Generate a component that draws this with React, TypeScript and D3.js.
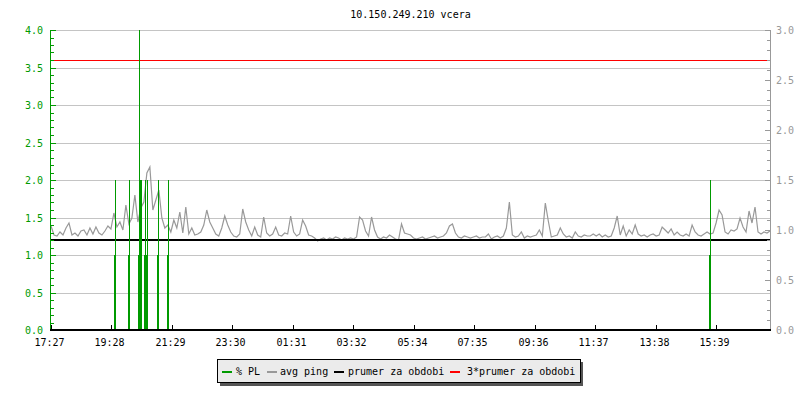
import React from "react";
import * as d3 from "d3";

// ---- data ----
const title = "10.150.249.210 vcera";
const timeLabels = ["17:27", "19:28", "21:29", "23:30", "01:31", "03:32", "05:34", "07:35", "09:36", "11:37", "13:38", "15:39"];
const startLabel = "17:27";
const periodMinutes = 1440;
const sampleStep = 6; // minutes between avg ping samples

// avg ping (right axis), one value every 6 minutes from 17:27
const avgPing = [
  1.04, 0.95, 0.94, 0.98, 0.95, 1.02, 1.07, 0.95, 0.97, 0.94,
  0.99, 1.00, 0.95, 1.02, 0.96, 1.03, 0.97, 0.95, 0.99, 1.04,
  1.01, 1.17, 1.03, 1.08, 1.00, 1.25, 1.06, 1.12, 1.35, 1.08,
  1.22, 1.28, 1.57, 1.63, 1.20, 1.30, 1.40, 1.12, 1.02, 1.05,
  0.98, 1.10, 1.02, 1.18, 0.97, 1.23, 0.96, 1.02, 0.95, 0.96,
  0.98, 1.05, 1.20, 1.08, 1.02, 0.96, 0.94, 1.02, 1.14, 1.05,
  0.98, 0.94, 0.93, 0.96, 1.21, 1.08, 1.00, 0.94, 1.03, 0.95,
  0.93, 1.13, 0.97, 0.94, 0.96, 1.03, 0.95, 0.94, 0.97, 0.96,
  1.14, 0.98, 0.94, 0.96, 1.10, 1.04, 0.95, 0.94, 0.92, 0.89,
  0.91, 0.92, 0.90, 0.92, 0.91, 0.93, 0.92, 0.90, 0.92, 0.91,
  0.92, 0.91, 0.93, 1.13, 1.10, 0.99, 0.94, 1.13, 1.00, 0.93,
  0.91, 0.93, 0.92, 0.95, 0.93, 0.91, 0.90, 1.06, 0.97, 0.96,
  0.95, 0.92, 0.91, 0.92, 0.93, 0.91, 0.92, 0.93, 0.94, 0.92,
  0.93, 0.94, 0.97, 1.04, 1.06, 0.97, 0.93, 0.92, 0.94, 0.93,
  0.92, 0.93, 0.94, 0.92, 0.93, 0.93, 0.96, 0.91, 0.93, 0.94,
  0.92, 0.94, 1.02, 1.28, 0.95, 0.93, 0.94, 0.98, 0.92, 0.94,
  0.93, 0.94, 0.95, 1.00, 0.94, 1.27, 1.09, 0.93, 0.94, 0.95,
  1.02, 0.96, 0.93, 0.94, 0.92, 0.98, 0.94, 0.93, 0.95, 0.94,
  0.94, 0.96, 0.94, 0.96, 0.93, 0.95, 0.93, 0.94, 1.02, 1.14,
  0.95, 1.04, 0.94, 1.00, 0.96, 1.05, 0.96, 0.94, 0.95, 0.93,
  0.95, 0.96, 0.94, 0.95, 1.03, 1.00, 0.97, 1.01, 0.95, 0.98,
  0.95, 0.94, 0.96, 0.94, 1.05, 0.98, 0.95, 0.94, 0.96, 0.98,
  0.96, 0.97, 1.07, 1.20, 1.15, 0.98, 0.96, 1.00, 0.99, 1.01,
  1.12, 1.03, 0.98, 1.19, 1.07, 1.23, 0.98, 0.96, 0.98, 0.97,
  0.99,
];

// % packet loss events (left axis): minutes after start, value
const plMinutes = [128, 157, 177, 179, 181, 189, 193, 215, 235, 1319];
const plValues = [2, 2, 4, 2, 2, 2, 2, 2, 2, 2];

const periodAverage = 0.9; // prumer za obdobi (right axis)
const averageMultiplier = 3;

const legendLabels = ["% PL", "avg ping", "prumer za obdobi", "3*prumer za obdobi"];

// ---- styles ----
const GREEN = "#009a00";
const GRAY = "#999999";
const GRID = "#c4c4c4";
const FONT = "DejaVu Sans Mono";
const legendColors = [GREEN, GRAY, "#000000", "#ff0000"];

function toMinutes(label: string) {
  const [h, m] = label.split(":").map(Number);
  const [sh, sm] = startLabel.split(":").map(Number);
  return (h * 60 + m - (sh * 60 + sm) + 1440) % 1440;
}

export default function App() {
  const W = 800, H = 400;
  const left = 51, right = 770, top = 30, bottom = 330;

  const x = d3.scaleLinear().domain([0, periodMinutes]).range([left, right]);
  const yL = d3.scaleLinear().domain([0, 4]).range([bottom, top]);
  const yR = d3.scaleLinear().domain([0, 3]).range([bottom, top]);

  const leftMajor = yL.ticks(8);
  const leftMinor = yL.ticks(40);
  const rightMajor = yR.ticks(6);
  const rightMinor = yR.ticks(30);

  const pingLine = d3
    .line<number>()
    .x((_, i) => x(i * sampleStep))
    .y((d) => yR(d))
    .curve(d3.curveLinear);

  const legendX = [222, 267, 334, 450];
  const legendTextX = [236, 280, 348, 467];

  return (
    <svg width={W} height={H} style={{ position: "absolute", left: 0, top: 0, background: "#fff" }} fontFamily={FONT}>
      <rect x={0} y={0} width={W} height={H} fill="#fff" />
      <text x={(left + right) / 2} y={18} textAnchor="middle" fontSize={10} fill="#000">{title}</text>

      {/* grid */}
      {leftMajor.map((t) => (
        <line key={"g" + t} x1={left} x2={right} y1={Math.round(yL(t)) + 0.5} y2={Math.round(yL(t)) + 0.5} stroke={GRID} strokeWidth={1} />
      ))}

      {/* avg ping */}
      <path d={pingLine(avgPing) || ""} fill="none" stroke={GRAY} strokeWidth={1.2} />

      {/* average lines */}
      <line x1={left} x2={right} y1={yR(periodAverage)} y2={yR(periodAverage)} stroke="#000" strokeWidth={2} />
      <line x1={left} x2={right} y1={Math.round(yR(periodAverage * averageMultiplier)) + 0.5} y2={Math.round(yR(periodAverage * averageMultiplier)) + 0.5} stroke="#ff0000" strokeWidth={1} />

      {/* packet loss */}
      {plMinutes.map((m, i) => {
        const px = Math.round(x(m));
        return (
          <g key={"pl" + i}>
            <rect x={px - 1} y={yL(Math.min(plValues[i], 1))} width={2} height={bottom - yL(Math.min(plValues[i], 1))} fill={GREEN} />
            <line x1={px + 0.5} x2={px + 0.5} y1={yL(plValues[i])} y2={bottom} stroke={GREEN} strokeWidth={1} />
          </g>
        );
      })}

      {/* left axis */}
      <line x1={left - 0.5} x2={left - 0.5} y1={top} y2={bottom} stroke={GREEN} strokeWidth={1} />
      {leftMinor.map((t) => (
        <line key={"lm" + t} x1={left - 1} x2={left + 3} y1={Math.round(yL(t)) + 0.5} y2={Math.round(yL(t)) + 0.5} stroke={GREEN} strokeWidth={1} />
      ))}
      {leftMajor.map((t) => (
        <g key={"lM" + t}>
          <line x1={left - 1} x2={left + 5} y1={Math.round(yL(t)) + 0.5} y2={Math.round(yL(t)) + 0.5} stroke={GREEN} strokeWidth={1} />
          <text x={43} y={yL(t) + 4} textAnchor="end" fontSize={10} fill={GREEN}>{t.toFixed(1)}</text>
        </g>
      ))}

      {/* right axis */}
      <line x1={right + 0.5} x2={right + 0.5} y1={top} y2={bottom} stroke={GRAY} strokeWidth={1} />
      {rightMinor.map((t) => (
        <line key={"rm" + t} x1={right - 3} x2={right + 1} y1={Math.round(yR(t)) + 0.5} y2={Math.round(yR(t)) + 0.5} stroke={GRAY} strokeWidth={1} />
      ))}
      {rightMajor.map((t) => (
        <g key={"rM" + t}>
          <line x1={right - 5} x2={right + 1} y1={Math.round(yR(t)) + 0.5} y2={Math.round(yR(t)) + 0.5} stroke={GRAY} strokeWidth={1} />
          <text x={776} y={yR(t) + 4} textAnchor="start" fontSize={10} fill={GRAY}>{t.toFixed(1)}</text>
        </g>
      ))}

      {/* bottom axis */}
      <line x1={left - 1} x2={right + 1} y1={bottom} y2={bottom} stroke="#000" strokeWidth={2} />
      {timeLabels.map((lab) => {
        const px = Math.round(x(toMinutes(lab))) + 0.5;
        return (
          <g key={"x" + lab}>
            <line x1={px} x2={px} y1={bottom - 5} y2={bottom} stroke="#000" strokeWidth={1} />
            <text x={px - 2} y={346} textAnchor="middle" fontSize={10} fill="#000">{lab}</text>
          </g>
        );
      })}

      {/* legend */}
      <rect x={220} y={362} width={363} height={24} fill="#555555" />
      <rect x={217.5} y={359.5} width={363} height={23} fill="#ebebeb" stroke="#000" strokeWidth={1} />
      {legendLabels.map((lab, i) => (
        <g key={"lg" + i}>
          <line x1={legendX[i]} x2={legendX[i] + 10} y1={372} y2={372} stroke={legendColors[i]} strokeWidth={2} />
          <text x={legendTextX[i]} y={375} fontSize={10} fill="#000">{lab}</text>
        </g>
      ))}
    </svg>
  );
}
